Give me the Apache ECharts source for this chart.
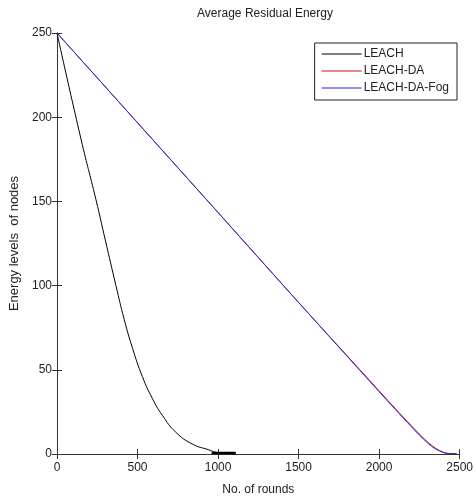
<!DOCTYPE html>
<html>
<head>
<meta charset="utf-8">
<script src="https://cdn.jsdelivr.net/npm/echarts@6/dist/echarts.min.js"></script>
<style>
  html, body { margin: 0; padding: 0; background: #fff; }
  #chart { width: 476px; height: 501px; }
</style>
</head>
<body>
<div id="chart"></div>
<script>
// values
var xTicks = [0, 500, 1000, 1500, 2000, 2500];
var yTicks = [0, 50, 100, 150, 200, 250];

var leachRounds = [0, 149, 242, 300, 366, 417, 470, 530, 592, 654, 737, 839, 942, 1000, 1040];
var leachEnergy = [250, 187, 151, 127, 100, 80, 62.5, 46, 33, 23, 13, 6, 2.5, 0.8, 0.5];
// the thick flat tail of LEACH
var leachTailRounds = [960, 1110];
var leachTailEnergy = [0.6, 0.6];

var daRounds = [0, 500, 1000, 1500, 2000, 2100, 2200, 2250, 2300, 2350, 2400, 2440, 2480];
var daEnergy = [250, 196.7, 143.4, 90, 37.5, 27, 16.8, 11.8, 7.2, 3.4, 1, 0.3, 0.3];

var fogRounds = [0, 500, 1000, 1500, 2000, 2100, 2200, 2250, 2300, 2350, 2400, 2430, 2480];
var fogEnergy = [250, 196.7, 143.4, 90, 37, 26.5, 16.2, 11.2, 6.6, 3, 0.8, 0.3, 0.3];

function pairs(xs, ys) {
  var out = [];
  for (var i = 0; i < xs.length; i++) out.push([xs[i], ys[i]]);
  return out;
}

var dom = document.getElementById("chart");
var myChart = echarts.init(dom);
var font = 'Liberation Sans';

var option = {
  animation: false,
  backgroundColor: '#fff',
  title: {
    text: 'Average Residual Energy',
    left: 260,
    textAlign: 'center',
    top: 3,
    textStyle: { fontFamily: font, fontSize: 12, fontWeight: 'normal', color: '#222' }
  },
  grid: { left: 57, top: 33, right: 13, bottom: 46, show: false },
  legend: {
    data: ['LEACH', 'LEACH-DA', 'LEACH-DA-Fog'],
    orient: 'vertical',
    right: 19,
    top: 43,
    padding: [5, 8, 6, 7],
    itemGap: 5,
    itemWidth: 40,
    itemHeight: 1,
    icon: 'rect',
    borderColor: '#222',
    borderWidth: 1,
    borderRadius: 0,
    backgroundColor: '#fff',
    align: 'left',
    textStyle: { fontFamily: font, fontSize: 12, color: '#222', padding: [0, 0, 0, -3] }
  },
  xAxis: [{
    type: 'value',
    min: 0, max: 2500, interval: 500,
    name: 'No. of rounds',
    nameLocation: 'middle',
    nameGap: 30,
    nameTextStyle: { fontFamily: font, fontSize: 12, color: '#222' },
    axisLine: { show: true, lineStyle: { color: '#333' } },
    axisTick: { inside: true, length: 5, lineStyle: { color: '#333' } },
    axisLabel: { fontFamily: font, fontSize: 12, color: '#222', margin: 8,
      formatter: function (v) { return xTicks.indexOf(v) >= 0 ? String(v) : ''; } },
    splitLine: { show: false }
  }, {
    type: 'value', position: 'top',
    min: 0, max: 2500, interval: 500,
    axisLine: { show: true, lineStyle: { color: '#333' } },
    axisTick: { inside: true, length: 5, lineStyle: { color: '#333' } },
    axisLabel: { show: false },
    splitLine: { show: false }
  }],
  yAxis: [{
    type: 'value',
    min: 0, max: 250, interval: 50,
    name: 'Energy levels  of nodes',
    nameLocation: 'middle',
    nameGap: 27,
    nameTextStyle: { fontFamily: font, fontSize: 13, color: '#222' },
    axisLine: { show: true, lineStyle: { color: '#333' } },
    axisTick: { inside: true, length: 5, lineStyle: { color: '#333' } },
    axisLabel: { fontFamily: font, fontSize: 12, color: '#222', margin: 5,
      formatter: function (v) { return yTicks.indexOf(v) >= 0 ? String(v) : ''; } },
    splitLine: { show: false }
  }, {
    type: 'value', position: 'right',
    min: 0, max: 250, interval: 50,
    axisLine: { show: true, lineStyle: { color: '#333' } },
    axisTick: { inside: true, length: 5, lineStyle: { color: '#333' } },
    axisLabel: { show: false },
    splitLine: { show: false }
  }],
  series: [
    {
      name: 'LEACH', type: 'line', symbol: 'none', smooth: true,
      color: '#000',
      lineStyle: { color: '#000', width: 1 },
      data: pairs(leachRounds, leachEnergy)
    },
    {
      name: 'LEACH tail', type: 'line', symbol: 'none',
      lineStyle: { color: '#000', width: 2.5 },
      data: pairs(leachTailRounds, leachTailEnergy)
    },
    {
      name: 'LEACH-DA', type: 'line', symbol: 'none', smooth: 0.3,
      color: '#d01010',
      lineStyle: { color: '#d01010', width: 1 },
      data: pairs(daRounds, daEnergy)
    },
    {
      name: 'LEACH-DA-Fog', type: 'line', symbol: 'none', smooth: 0.3,
      color: '#2828e0',
      lineStyle: { color: '#2828e0', width: 1 },
      data: pairs(fogRounds, fogEnergy)
    }
  ]
};

if (option && typeof option === 'object') {
  myChart.setOption(option);
}
</script>
</body>
</html>
